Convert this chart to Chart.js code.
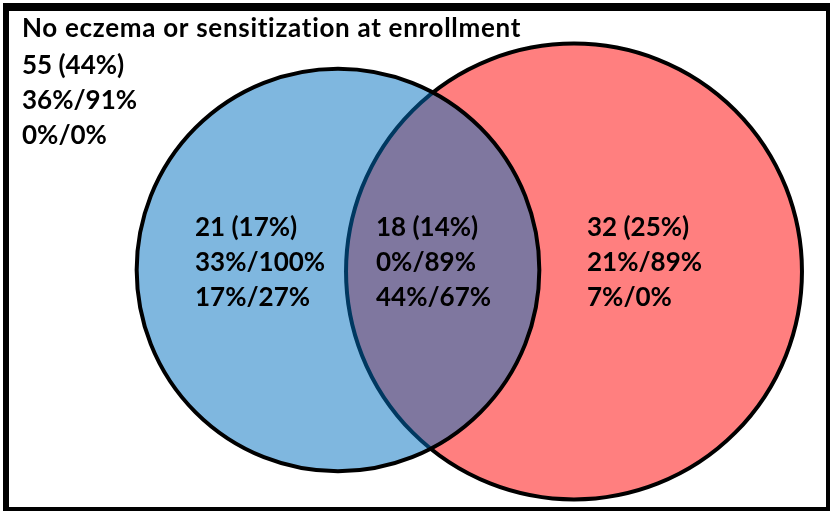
<!DOCTYPE html>
<html><head><meta charset="utf-8">
<script src="https://cdn.jsdelivr.net/npm/chart.js@4.4.1/dist/chart.umd.min.js"></script>
<style>
html,body{margin:0;padding:0;background:#fff;overflow:hidden}
#wrap{width:830px;height:513px;position:relative}
</style>
</head><body>
<div id="wrap"><canvas id="c" width="830" height="513"></canvas></div>
<script>
// ---- data ----
const title = 'No eczema or sensitization at enrollment';
const regions = ['Neither', 'Left only', 'Both', 'Right only'];
const counts = [55, 21, 18, 32];
const shares = ['44%', '17%', '14%', '25%'];
const rowB = ['36%/91%', '33%/100%', '0%/89%', '21%/89%'];
const rowC = ['0%/0%', '17%/27%', '44%/67%', '7%/0%'];

// set sizes (circle areas proportional to members)
const leftSet = counts[1] + counts[2];
const rightSet = counts[2] + counts[3];

// ---- layout (drawing coordinates) ----
const W = 830, H = 513;
const R_PER_SQRT = 32.24;
const centers = { left: [338, 270], right: [574, 271.5] };
const labelAnchors = [[22, 37], [195, 236], [376, 236], [587, 236]];
const lineGap = 35;
const FONT = 'bold 26px Lato';

const bubbles = [
  { x: centers.right[0], y: centers.right[1], r: R_PER_SQRT * Math.sqrt(rightSet) },
  { x: centers.left[0], y: centers.left[1], r: R_PER_SQRT * Math.sqrt(leftSet) }
];

const framePlugin = {
  id: 'frame',
  afterDraw(chart) {
    const ctx = chart.ctx;
    ctx.save();
    ctx.fillStyle = '#000';
    ctx.fillRect(3, 3, W - 3, 8);     // top
    ctx.fillRect(3, 3, 6, H - 5);     // left
    ctx.fillRect(3, H - 6, W - 3, 4); // bottom
    ctx.fillRect(W - 4, 3, 4, H - 5); // right
    ctx.restore();
  }
};

const textPlugin = {
  id: 'vennText',
  afterDatasetsDraw(chart) {
    const ctx = chart.ctx;
    const xs = chart.scales.x, ys = chart.scales.y;
    ctx.save();
    ctx.fillStyle = '#000';
    ctx.font = FONT;
    ctx.textAlign = 'left';
    ctx.textBaseline = 'alphabetic';
    regions.forEach((name, i) => {
      const [ax, ay] = labelAnchors[i];
      const lines = [];
      if (i === 0) lines.push(title);
      lines.push(counts[i] + ' (' + shares[i] + ')', rowB[i], rowC[i]);
      lines.forEach((t, k) => {
        let yv = ay + k * lineGap;
        if (i === 0 && k > 0) yv += 2;
        ctx.letterSpacing = (i === 0 && k === 0) ? '0.7px' : '0px';
        ctx.fillText(t, xs.getPixelForValue(ax), ys.getPixelForValue(yv));
      });
    });
    ctx.restore();
  }
};

new Chart(document.getElementById('c'), {
  type: 'bubble',
  data: {
    datasets: [{
      label: 'Sets',
      data: bubbles,
      backgroundColor: ['rgba(255,0,0,0.5)', 'rgba(0,112,192,0.5)'],
      borderColor: '#000',
      borderWidth: 4,
      hoverBorderWidth: 4,
      clip: false
    }]
  },
  options: {
    responsive: false,
    animation: false,
    events: [],
    layout: { padding: 0, autoPadding: false },
    plugins: { legend: { display: false }, tooltip: { enabled: false } },
    scales: {
      x: { type: 'linear', min: 0, max: W, display: false },
      y: { type: 'linear', min: 0, max: H, reverse: true, display: false }
    }
  },
  plugins: [framePlugin, textPlugin]
});
</script>
</body></html>
